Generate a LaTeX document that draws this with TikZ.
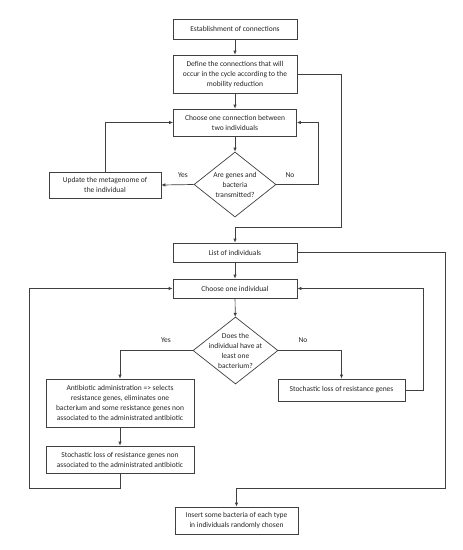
\documentclass[tikz,border=0pt]{standalone}
\usepackage{fontspec}
\setmainfont{Carlito}
\usetikzlibrary{arrows.meta,shapes.geometric}
\begin{document}
\begin{tikzpicture}[x=1pt,y=-1pt,
  font=\fontsize{7.5}{10}\selectfont,
  line width=0.7pt,
  every node/.style={text=black!85},
  box/.style={draw=black!75, rectangle, align=center, inner sep=1pt},
  dia/.style={draw=black!75, diamond, inner sep=0pt},
  lbl/.style={align=center, inner sep=0pt},
  arr/.style={draw=black!75, -{Latex[length=4pt,width=3.5pt]}},
  ln/.style={draw=black!75}]
\useasboundingbox (0,0) rectangle (463,550);
\fill[white] (0,0) rectangle (463,550);

\node[box, minimum width=124pt, minimum height=20pt] (b1) at (235,29) {Establishment of connections};
\node[box, minimum width=124pt, minimum height=38pt] (b2) at (235,74) {Define the connections that will\\occur in the cycle according to the\\mobility reduction};
\node[box, minimum width=123pt, minimum height=27pt] (b3) at (235,122.5) {Choose one connection between\\two individuals};
\node[dia, minimum width=82pt, minimum height=65pt] (d1) at (235,184.5) {};
\node[lbl] (d1t) at (d1) {Are genes and\\bacteria\\transmitted?};
\node[box, minimum width=112pt, minimum height=26pt] (upd) at (105,185) {Update the metagenome of\\the individual};
\node[box, minimum width=124pt, minimum height=19pt] (list) at (235,252.5) {List of individuals};
\node[box, minimum width=124pt, minimum height=19pt] (ci) at (235,288.5) {Choose one individual};
\node[dia, minimum width=85pt, minimum height=67pt] (d2) at (235.5,350.5) {};
\node[lbl] (d2t) at (d2) {Does the\\individual have at\\least one\\bacterium?};
\node[box, minimum width=148pt, minimum height=48pt] (ab) at (120,403) {Antibiotic administration => selects\\resistance genes, eliminates one\\bacterium and some resistance genes non\\associated to the administrated antibiotic};
\node[box, minimum width=127pt, minimum height=22pt] (st1) at (341.5,390) {Stochastic loss of resistance genes};
\node[box, minimum width=148pt, minimum height=27pt] (st2) at (120,459.5) {Stochastic loss of resistance genes non\\associated to the administrated antibiotic};
\node[box, minimum width=123pt, minimum height=27pt] (ins) at (236.5,520.5) {Insert some bacteria of each type\\in individuals randomly chosen};

\node[lbl] (y1) at (183,175) {Yes};
\node[lbl] (n1) at (290,175) {No};
\node[lbl] (y2) at (166,340) {Yes};
\node[lbl] (n2) at (303,340) {No};

\coordinate (r1) at (341,227);
\coordinate (nr) at (318,184.5);
\coordinate (r2) at (445,488);
\coordinate (l1) at (29,488);

\draw[arr] (b1) -- (b2);
\draw[arr] (b2) -- (b3);
\draw[arr] (b3) -- (d1);
\draw[arr] (b2.east) -| (r1) -| (list.north);
\draw[arr] (d1.west) -- (upd.east);
\draw[arr] (upd.north) |- (b3.west);
\draw[arr] (d1.east) -- (nr) |- (b3.east);
\draw[arr] (list) -- (ci);
\draw[arr] (list.east) -| (r2) -| (ins.north);
\draw[arr] (ci) -- (d2);
\draw[arr] (d2.west) -| (ab.north);
\draw[arr] (d2.east) -| (st1.north);
\draw[arr] (st1.east) -- ++(18,0) |- (ci.east);
\draw[arr] (ab) -- (st2);
\draw[arr] (st2.south) |- (l1) |- (ci.west);
\end{tikzpicture}
\end{document}
